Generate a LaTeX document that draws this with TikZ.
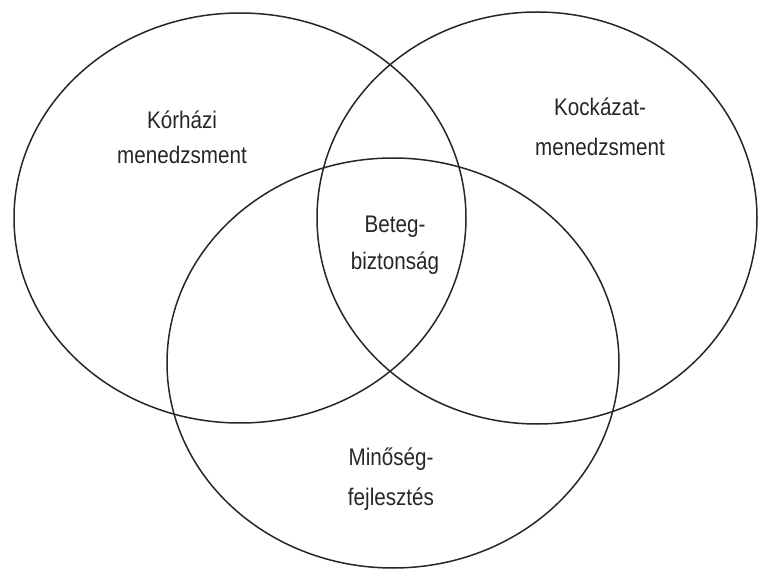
\documentclass[tikz,border=0pt]{standalone}
\usepackage{fontspec}
\setmainfont{Liberation Sans}[FakeStretch=0.86]
\begin{document}
\begin{tikzpicture}[x=1pt,y=-1pt,
  ring/.style={draw=black!85,line width=1.5pt},
  lbl/.style={align=center,text=black!85,font=\fontsize{24}{38}\selectfont}]
\useasboundingbox (0,0) rectangle (758,569);
\draw[ring] (240,218) ellipse [x radius=226,y radius=205];
\draw[ring] (537,218) ellipse [x radius=220,y radius=206];
\draw[ring] (393,363) ellipse [x radius=226,y radius=205];
\node[lbl,font=\fontsize{24}{35}\selectfont] (korhazi) at (182,137) {Kórházi\\menedzsment};
\node[lbl,font=\fontsize{24}{40}\selectfont] (kockazat) at (600,127) {Kockázat-\\menedzsment};
\node[lbl,font=\fontsize{24}{37}\selectfont] (beteg) at (395,245) {Beteg-\\biztonság};
\node[lbl,font=\fontsize{24}{40}\selectfont] (minoseg) at (391,479) {Minőség-\\fejlesztés};
\end{tikzpicture}
\end{document}
